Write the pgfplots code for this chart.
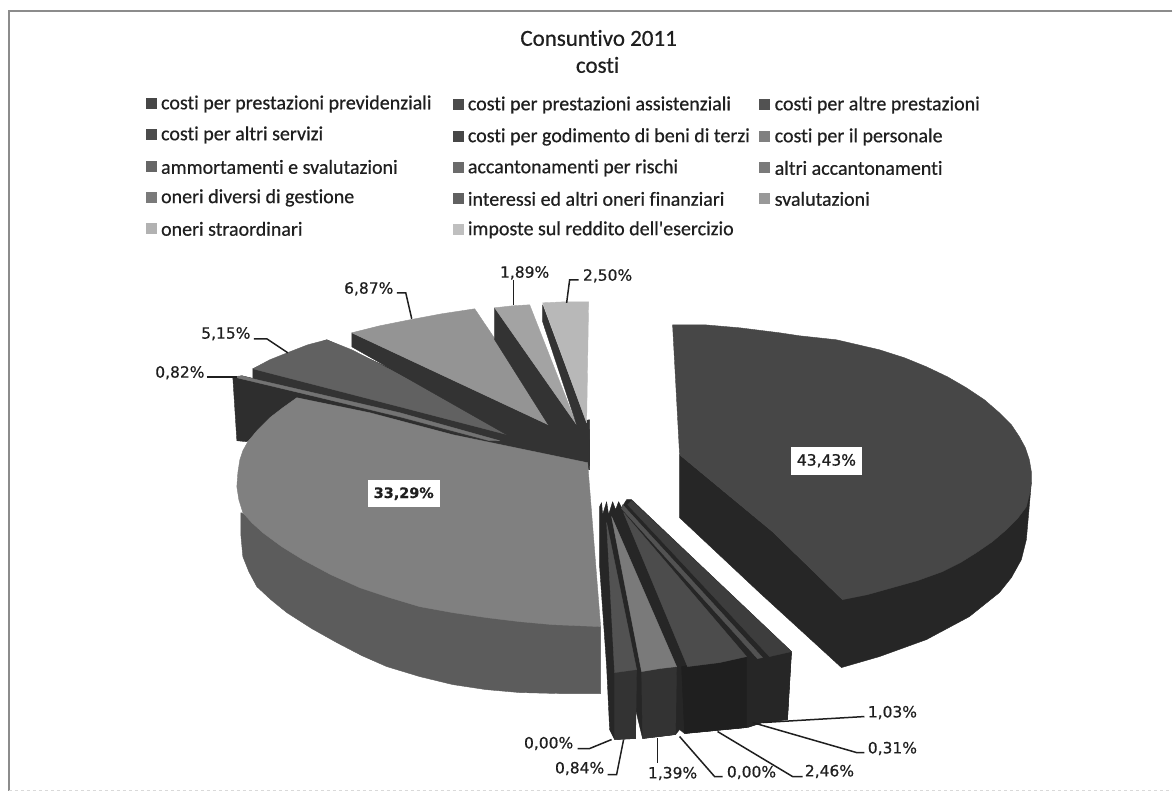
\documentclass[border=0pt]{standalone}
\usepackage{pgfplots}
\pgfplotsset{compat=1.18}
\usepackage{fontspec}
\setmainfont[Ligatures=NoCommon,FakeBold=0.6]{Carlito}
\newfontfamily\carl[Ligatures=NoCommon,FakeBold=0.6]{Carlito}
\newfontfamily\lab[FakeBold=0.5]{DejaVu Sans}
\newfontfamily\labb[FakeBold=1.0]{DejaVu Sans}
\definecolor{ink}{gray}{0.12}
\pgfplotsset{
  face/.style={fill=#1,draw=#1,line width=0.4pt,line join=round,mark=none,forget plot},
  lead/.style={draw=ink,line width=1.5pt,mark=none,forget plot},
  key/.style={only marks,mark=square*,mark size=5pt,mark options={fill=#1,draw=#1},forget plot},
}
\newcommand{\leg}[3]{\node[anchor=west,text=ink,font=\carl\fontsize{20}{22}\selectfont,inner sep=0pt] at (axis cs:#1,#2) {#3};}
\newcommand{\pct}[3]{\node[text=ink,font=\lab\fontsize{15.5}{18}\selectfont,inner sep=0pt] at (axis cs:#1,#2) {#3};}
\begin{document}
\begin{tikzpicture}
\begin{axis}[
  scale only axis, width=1173pt, height=793pt,
  xmin=0, xmax=1173, ymin=0, ymax=793, y dir=reverse,
  hide axis, clip=false
]
% frame
\addplot[draw=black!45,line width=1.5pt,mark=none] coordinates {(1173,11) (9,11) (9,791)};
\addplot[draw=black!15,line width=1pt,dashed,mark=none] coordinates {(9,791) (1173,791)};

% big slice 43,43%
\addplot[face={black!85}] coordinates {(680,455) (680,518) (760,593) (842,668) (880,657) (927,640) (970,617) (1000,593) (1012,578) (1022,560) (1027,540) (1032,483) (843,600) (773,532)} --cycle;
\addplot[face={black!72}] coordinates {(673,325) (705,325) (740,328) (780,333) (800,336) (837,340) (880,350) (905,358) (927,367) (948,377) (967,388) (985,400) (1000,413) (1012,425) (1020,437) (1026,448) (1030,460) (1032,472) (1032,483) (1030,495) (1027,507) (1018,519) (1007,530) (993,542) (977,553) (961,563) (943,572) (918,581) (893,588) (868,595) (843,600) (773,532) (680,455)} --cycle;

% 0,82% block behind the big grey slice
\addplot[face={black!82}] coordinates {(233,378) (237,441) (247,442) (297,398) (400,425) (500,450) (590,470) (590,440) (500,436) (242,376)} --cycle;
% 5,15%
\addplot[face={black!80}] coordinates {(253,369) (253,381) (400,418) (497,445) (590,466) (590,420) (527,430) (327,340)} --cycle;
\addplot[face={black!62}] coordinates {(253,369) (270,360) (290,352) (308,345) (327,340) (352,350) (527,440) (400,407)} --cycle;
% 0,82% top
\addplot[face={black!55}] coordinates {(233,377) (242,376) (253,379) (400,413) (500,441) (490,441) (400,417) (300,393)} --cycle;
% 6,87%
\addplot[face={black!80}] coordinates {(352,333) (555,428) (577,430) (590,466) (530,448) (352,347)} --cycle;
\addplot[face={black!42}] coordinates {(352,333) (380,326) (410,320) (442,314) (475,309) (555,428)} --cycle;
% 1,89%
\addplot[face={black!80}] coordinates {(495,308) (577,425) (590,430) (590,466) (553,432) (495,340)} --cycle;
\addplot[face={black!36}] coordinates {(495,308) (513,306) (530,305) (577,425)} --cycle;
% 2,50%
\addplot[face={black!80}] coordinates {(543,305) (587,423) (588,463) (577,460) (577,425) (543,322)} --cycle;
\addplot[face={black!28}] coordinates {(543,303) (565,302) (589,302) (587,423)} --cycle;

% grey slice 33,29%
\addplot[face={black!64}] coordinates {(241,513) (241,535) (243,557) (249,572) (257,587) (271,600) (287,613) (312,629) (337,643) (362,656) (387,667) (420,677) (453,685) (486,690) (520,693) (560,694) (601,694) (601,627) (420,590)} --cycle;
\addplot[face={black!50}] coordinates {(588,463) (601,627) (577,626) (553,625) (520,622) (487,618) (453,613) (420,607) (390,598) (360,588) (331,575) (303,560) (282,547) (263,533) (252,523) (243,513) (239,500) (237,487) (238,473) (240,460) (243,451) (248,442) (258,430) (270,418) (283,408) (297,398) (370,413) (453,435)} --cycle;

% lower fan: dark body
\addplot[face={black!85}] coordinates {(600,507) (602,503) (603,515) (607,502) (609,515) (613,502) (616,510) (619,502) (622,508) (627,500) (632,500) (792,652) (788,720) (763,723) (747,728) (685,734) (680,730) (676,735) (643,739) (636,710) (636,739) (615,740) (610,730) (607,667) (600,567)} --cycle;
\addplot[face={black!80}] coordinates {(615,673) (637,670) (636,739) (615,740)} --cycle;
\addplot[face={black!80}] coordinates {(642,672) (677,667) (676,735) (643,739)} --cycle;
\addplot[face={black!88}] coordinates {(682,667) (747,657) (747,728) (685,734)} --cycle;
\addplot[face={black!85}] coordinates {(748,658) (792,652) (788,720) (763,723) (748,728)} --cycle;
% lower fan: top faces
\addplot[face={black!76}] coordinates {(632,501) (792,652) (770,657) (628,505)} --cycle; % 1,03%
\addplot[face={black!68}] coordinates {(623,505) (763,658) (758,659) (622,509)} --cycle; % 0,31%
\addplot[face={black!70}] coordinates {(624,513) (747,657) (720,663) (688,667)} --cycle; % 2,46%
\addplot[face={black!52}] coordinates {(612,517) (677,667) (660,669) (642,672)} --cycle; % 1,39%
\addplot[face={black!68}] coordinates {(607,523) (637,670) (615,673)} --cycle; % 0,84%

% leaders
\addplot[lead] coordinates {(763,723) (865,717)};
\addplot[lead] coordinates {(753,723) (857,753) (865,753)};
\addplot[lead] coordinates {(718,732) (793,777) (803,777)};
\addplot[lead] coordinates {(680,737) (715,777) (723,777)};
\addplot[lead] coordinates {(658,738) (658,763)};
\addplot[lead] coordinates {(624,740) (617,775) (608,775)};
\addplot[lead] coordinates {(612,740) (590,749) (578,749)};
\addplot[lead] coordinates {(207,377) (237,377)};
\addplot[lead] coordinates {(254,339) (267,339) (288,353)};
\addplot[lead] coordinates {(397,293) (406,293) (412,319)};
\addplot[lead] coordinates {(514,280) (514,305)};
\addplot[lead] coordinates {(579,280) (570,280) (567,303)};

% legend keys
\addplot[key={black!72}] coordinates {(151,103)};
\addplot[key={black!70}] coordinates {(458,104)};
\addplot[key={black!68}] coordinates {(765,104)};
\addplot[key={black!70}] coordinates {(151,134)};
\addplot[key={black!72}] coordinates {(458,136)};
\addplot[key={black!50}] coordinates {(765,136)};
\addplot[key={black!60}] coordinates {(151,166)};
\addplot[key={black!58}] coordinates {(458,167)};
\addplot[key={black!52}] coordinates {(765,167)};
\addplot[key={black!52}] coordinates {(151,197)};
\addplot[key={black!62}] coordinates {(458,198)};
\addplot[key={black!40}] coordinates {(765,198)};
\addplot[key={black!30}] coordinates {(151,228)};
\addplot[key={black!25}] coordinates {(458,229)};

% title and legend text
\node[text=ink,font=\carl\fontsize{23}{26}\selectfont,inner sep=0pt] at (axis cs:599,38) {Consuntivo 2011};
\node[text=ink,font=\carl\fontsize{23}{26}\selectfont,inner sep=0pt] at (axis cs:598,65) {costi};
\leg{161}{104}{costi per prestazioni previdenziali}
\leg{468}{105}{costi per prestazioni assistenziali}
\leg{775}{105}{costi per altre prestazioni}
\leg{161}{135}{costi per altri servizi}
\leg{468}{137}{costi per godimento di beni di terzi}
\leg{775}{137}{costi per il personale}
\leg{161}{167}{ammortamenti e svalutazioni}
\leg{468}{168}{accantonamenti per rischi}
\leg{775}{168}{altri accantonamenti}
\leg{161}{198}{oneri diversi di gestione}
\leg{468}{199}{interessi ed altri oneri finanziari}
\leg{775}{199}{svalutazioni}
\leg{161}{229}{oneri straordinari}
\leg{468}{230}{imposte sul reddito dell'esercizio}

% data labels
\pct{893}{713}{1,03\%}
\pct{893}{749}{0,31\%}
\pct{830}{772}{2,46\%}
\pct{752}{773}{0,00\%}
\pct{673}{774}{1,39\%}
\pct{580}{769}{0,84\%}
\pct{549}{744}{0,00\%}
\pct{180}{373}{0,82\%}
\pct{226}{334}{5,15\%}
\pct{369}{289}{6,87\%}
\pct{525}{273}{1,89\%}
\pct{608}{276}{2,50\%}
\node[fill=white,text=ink,font=\lab\bfseries\fontsize{14.4}{17}\selectfont,minimum width=72pt,minimum height=27pt,inner sep=0pt] at (axis cs:404,494) {33,29\%};
\node[fill=white,text=ink,font=\labb\fontsize{15.5}{18}\selectfont,minimum width=72pt,minimum height=28pt,inner sep=0pt] at (axis cs:827,461) {43,43\%};
\end{axis}
\useasboundingbox (0,0) rectangle (1173pt,793pt);
\end{tikzpicture}
\end{document}
